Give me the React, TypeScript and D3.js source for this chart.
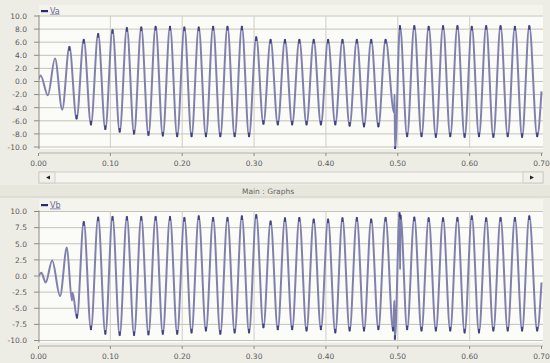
import React from 'react';
import * as d3 from 'd3';

// time axis (s)
const timeTicks = [0, 0.1, 0.2, 0.3, 0.4, 0.5, 0.6, 0.7];
const vaTicks = [10, 8, 6, 4, 2, 0, -2, -4, -6, -8, -10];
const vbTicks = [10, 7.5, 5, 2.5, 0, -2.5, -5, -7.5, -10];

// Va: extremes [t, value]
const vaPoints: [number, number][] = [
  [0, 0.3], [0.003, 0.9], [0.013, -2.1], [0.023, 3.5], [0.033, -4.3], [0.043, 5.3], [0.053, -5.7],
  [0.063, 6.4], [0.073, -6.6], [0.083, 7.3], [0.093, -7.3], [0.103, 7.9], [0.113, -7.7],
  [0.123, 8.2], [0.133, -8.0], [0.143, 8.3], [0.153, -8.2], [0.163, 8.4], [0.173, -8.3],
  [0.183, 8.4], [0.193, -8.4], [0.203, 8.3], [0.213, -8.4], [0.223, 8.3], [0.233, -8.4],
  [0.243, 8.4], [0.253, -8.4], [0.263, 8.4], [0.273, -8.4], [0.283, 8.4], [0.293, -8.4],
  [0.303, 6.8], [0.313, -6.5], [0.323, 6.4], [0.333, -6.6], [0.343, 6.4], [0.353, -6.6],
  [0.363, 6.4], [0.373, -6.6], [0.383, 6.4], [0.393, -6.6], [0.403, 6.4], [0.413, -6.6],
  [0.423, 6.4], [0.433, -6.8], [0.443, 6.4], [0.453, -6.9], [0.463, 6.4], [0.473, -6.9],
  [0.483, 6.4], [0.495, -4.8], [0.4955, -2.0], [0.4962, -10.5], [0.503, 8.5], [0.513, -8.4],
  [0.523, 8.5], [0.533, -8.4], [0.543, 8.4], [0.553, -8.5], [0.563, 8.5], [0.573, -8.4],
  [0.583, 8.5], [0.593, -8.5], [0.603, 8.4], [0.613, -8.4], [0.623, 8.5], [0.633, -8.5],
  [0.643, 8.5], [0.653, -8.4], [0.663, 8.4], [0.673, -8.5], [0.683, 8.5], [0.694, -8.4],
  [0.7, -1.5],
];

// Vb: extremes [t, value]
const vbPoints: [number, number][] = [
  [0, 0.0], [0.004, 0.5], [0.010, -1.0], [0.019, 2.4], [0.030, -3.1], [0.0395, 4.4],
  [0.0465, -3.8], [0.0475, -2.6], [0.0535, -6.5], [0.063, 8.4], [0.073, -8.3], [0.083, 9.1],
  [0.093, -9.0], [0.103, 9.2], [0.113, -9.2], [0.123, 9.2], [0.133, -9.2], [0.143, 9.2],
  [0.153, -9.1], [0.163, 9.2], [0.173, -9.0], [0.183, 9.2], [0.193, -9.0], [0.203, 9.05],
  [0.213, -8.8], [0.223, 9.3], [0.233, -8.5], [0.243, 9.05], [0.253, -9.0], [0.263, 9.05],
  [0.273, -8.8], [0.283, 9.3], [0.293, -8.8], [0.303, 9.5], [0.313, -8.0], [0.323, 8.5],
  [0.333, -8.3], [0.343, 9.0], [0.353, -8.3], [0.363, 9.05], [0.373, -8.5], [0.383, 8.8],
  [0.393, -8.3], [0.403, 8.8], [0.413, -8.8], [0.423, 9.0], [0.433, -8.5], [0.443, 9.05],
  [0.453, -8.5], [0.463, 8.8], [0.473, -8.3], [0.483, 9.05], [0.4935, -8.5], [0.4952, -3.8],
  [0.496, -9.8], [0.5025, 9.8], [0.5032, 1.0], [0.5038, 9.4], [0.513, -8.3], [0.523, 9.1],
  [0.533, -8.5], [0.543, 9.0], [0.553, -8.5], [0.563, 9.0], [0.573, -8.5], [0.583, 9.05],
  [0.593, -8.8], [0.603, 9.3], [0.613, -8.8], [0.623, 9.0], [0.633, -8.5], [0.643, 9.05],
  [0.653, -8.5], [0.663, 9.05], [0.673, -8.5], [0.683, 9.3], [0.694, -8.5], [0.7, -1.0],
];

const W = 550;
const H = 363;
const left = 39;
const right = 543;
const font = 'DejaVu Sans, Verdana, sans-serif';

const x = d3.scaleLinear().domain([0, 0.7]).range([38.5, 541.5]);

interface PanelProps {
  id: string;
  name: string;
  points: [number, number][];
  ticks: number[];
  top: number;
  plotTop: number;
  plotBottom: number;
  axisY: number;
  fmt: (v: number) => string;
}

const Panel: React.FC<PanelProps> = ({ id, name, points, ticks, top, plotTop, plotBottom, axisY, fmt }) => {
  const y = d3.scaleLinear().domain([10, -10]).range([plotTop, plotBottom]);
  const line = d3.line<[number, number]>()
    .x(d => x(d[0]))
    .y(d => y(d[1]))
    .curve(d3.curveMonotoneX);

  // darker blobs where the trace turns (large swings only)
  const turns = points.filter((d, i) => i > 0 && i < points.length - 1 && Math.abs(d[1]) > 5);

  return (
    <g>
      {/* legend strip */}
      <rect x={left} y={top} width={right - left} height={plotTop - top - 1} fill="#f4f3ec" />
      <rect x={41} y={top + 5} width={7} height={2.2} fill="#2a2a6e" />
      <text x={50} y={top + 8.5} fontSize={8} fontFamily={font} fill="#6a6a9a" textDecoration="underline">{name}</text>

      {/* plot area */}
      <rect x={left} y={plotTop - 1} width={right - left} height={plotBottom - plotTop + 3} fill="#fbfbf7" />
      <clipPath id={id}>
        <rect x={left} y={plotTop - 1} width={right - left} height={plotBottom - plotTop + 3} />
      </clipPath>
      {ticks.map(t => (
        <line key={'h' + t} x1={left} x2={right} y1={y(t)} y2={y(t)} stroke="#c4c3bb" strokeWidth={1} />
      ))}
      {timeTicks.slice(1, -1).map(t => (
        <line key={'v' + t} x1={x(t)} x2={x(t)} y1={plotTop} y2={plotBottom + 1} stroke="#cfcec6" strokeWidth={1} />
      ))}
      <g clipPath={`url(#${id})`}>
        <path d={line(points) || ''} fill="none" stroke="#8080ae" strokeWidth={2} strokeLinejoin="round" />
        {turns.map((d, i) => (
          <rect key={i} x={x(d[0]) - 1} width={2} height={4.5}
            y={d[1] > 0 ? y(d[1]) - 0.5 : y(d[1]) - 4} fill="#33337a" opacity={0.85} />
        ))}
      </g>

      {/* y axis */}
      <line x1={left} x2={left} y1={plotTop - 1} y2={plotBottom + 2} stroke="#8c8b84" />
      {ticks.map(t => (
        <g key={'yt' + t}>
          <line x1={left - 5} x2={left} y1={y(t)} y2={y(t)} stroke="#8c8b84" />
          <text x={27} y={y(t) + 2.8} fontSize={7.5} fontFamily={font} fill="#5a5a5a" textAnchor="end">{fmt(t)}</text>
        </g>
      ))}

      {/* x axis */}
      <line x1={left} x2={right} y1={axisY} y2={axisY} stroke="#b4b3ab" />
      {timeTicks.map(t => (
        <g key={'xt' + t}>
          <line x1={x(t)} x2={x(t)} y1={axisY} y2={axisY + 3} stroke="#8c8b84" />
          <text x={x(t)} y={axisY + 13} fontSize={7.5} fontFamily={font} fill="#5a5a5a" textAnchor="middle">{t.toFixed(2)}</text>
        </g>
      ))}
    </g>
  );
};

export default function App() {
  return (
    <svg width={W} height={H} style={{ position: 'absolute', left: 0, top: 0, display: 'block' }}>
      <rect width={W} height={H} fill="#eeede5" />

      <Panel id="clipA" name="Va" points={vaPoints} ticks={vaTicks} top={5} plotTop={16} plotBottom={147}
        axisY={153} fmt={v => v.toFixed(1)} />

      {/* scroll bar */}
      <rect x={left} y={172} width={right - left} height={11} fill="#f6f5f0" stroke="#cfcec5" />
      <rect x={left} y={172} width={16} height={11} fill="#f1f0ea" stroke="#cfcec5" />
      <rect x={right - 20} y={172} width={20} height={11} fill="#f1f0ea" stroke="#cfcec5" />
      <path d={`M46,177.5 L50,175.5 L50,179.5 Z`} fill="#222" />
      <path d={`M534,177.5 L530,175.5 L530,179.5 Z`} fill="#222" />

      {/* title bar */}
      <rect x={0} y={185} width={W} height={12} fill="#e8e7de" />
      <line x1={0} x2={W} y1={197} y2={197} stroke="#d2d1c8" />
      <text x={268} y={193.5} fontSize={7.5} fontFamily={font} fill="#666" textAnchor="middle">Main : Graphs</text>

      <Panel id="clipB" name="Vb" points={vbPoints} ticks={vbTicks} top={199} plotTop={211.5} plotBottom={340.5}
        axisY={346} fmt={v => v.toFixed(1)} />
    </svg>
  );
}
